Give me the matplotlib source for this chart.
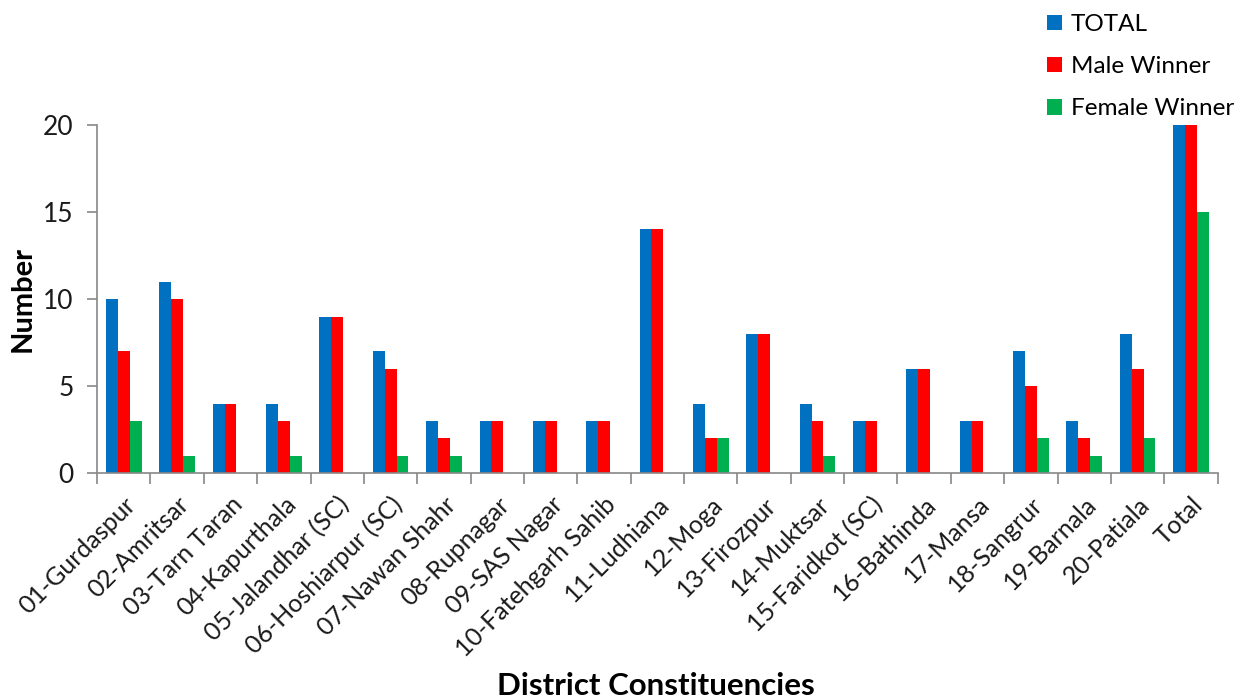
import matplotlib.pyplot as plt
import numpy as np

# district-wise winners
districts = [
    "01-Gurdaspur", "02-Amritsar", "03-Tarn Taran", "04-Kapurthala",
    "05-Jalandhar (SC)", "06-Hoshiarpur (SC)", "07-Nawan Shahr", "08-Rupnagar",
    "09-SAS Nagar", "10-Fatehgarh Sahib", "11-Ludhiana", "12-Moga",
    "13-Firozpur", "14-Muktsar", "15-Faridkot (SC)", "16-Bathinda",
    "17-Mansa", "18-Sangrur", "19-Barnala", "20-Patiala", "Total"
]
total = [10, 11, 4, 4, 9, 7, 3, 3, 3, 3, 14, 4, 8, 4, 3, 6, 3, 7, 3, 8, 117]
male = [7, 10, 4, 3, 9, 6, 2, 3, 3, 3, 14, 2, 8, 3, 3, 6, 3, 5, 2, 6, 102]
female = [3, 1, 0, 1, 0, 1, 1, 0, 0, 0, 0, 2, 0, 1, 0, 0, 0, 2, 1, 2, 15]

plt.rcParams['font.family'] = ['Lato', 'DejaVu Sans']

fig = plt.figure(figsize=(12.45, 6.98), dpi=100)
ax = fig.add_axes([0.078, 0.322, 0.9, 0.499])

x = np.arange(len(districts))
w = 1 / 4.5
ax.bar(x - w, total, w, color='#0070C0', label='TOTAL')
ax.bar(x, male, w, color='#FF0000', label='Male Winner')
ax.bar(x + w, female, w, color='#00B050', label='Female Winner')

ax.set_xlim(-0.5, len(districts) - 0.5)
ax.set_ylim(0, 20)
ax.set_yticks([0, 5, 10, 15, 20])

ax.set_xticks(x)
ax.set_xticklabels(districts, rotation=45, ha='right', rotation_mode='anchor')
ax.set_xticks(np.arange(len(districts) + 1) - 0.5, minor=True)
ax.tick_params(axis='x', which='major', length=0, pad=14, labelsize=18,
               labelcolor='#1a1a1a')
ax.tick_params(axis='x', which='minor', length=8, color='#888888', width=1.2)
ax.tick_params(axis='y', length=7, color='#888888', width=1.2, labelsize=19,
               pad=10, labelcolor='#1a1a1a')

for s in ['top', 'right']:
    ax.spines[s].set_visible(False)
for s in ['left', 'bottom']:
    ax.spines[s].set_color('#888888')
    ax.spines[s].set_linewidth(1.2)

ax.set_ylabel('Number', fontsize=21, fontweight='bold', labelpad=5)
fig.text(0.527, 0.017, 'District Constituencies', fontsize=22.5, fontweight='bold',
         ha='center', va='center')

fig.legend(loc='upper left', bbox_to_anchor=(0.841, 0.98), frameon=False,
           borderpad=0, borderaxespad=0,
           fontsize=17.5, handlelength=0.62, handleheight=0.62, handletextpad=0.35,
           labelspacing=0.87)

fig.savefig('out.png')
